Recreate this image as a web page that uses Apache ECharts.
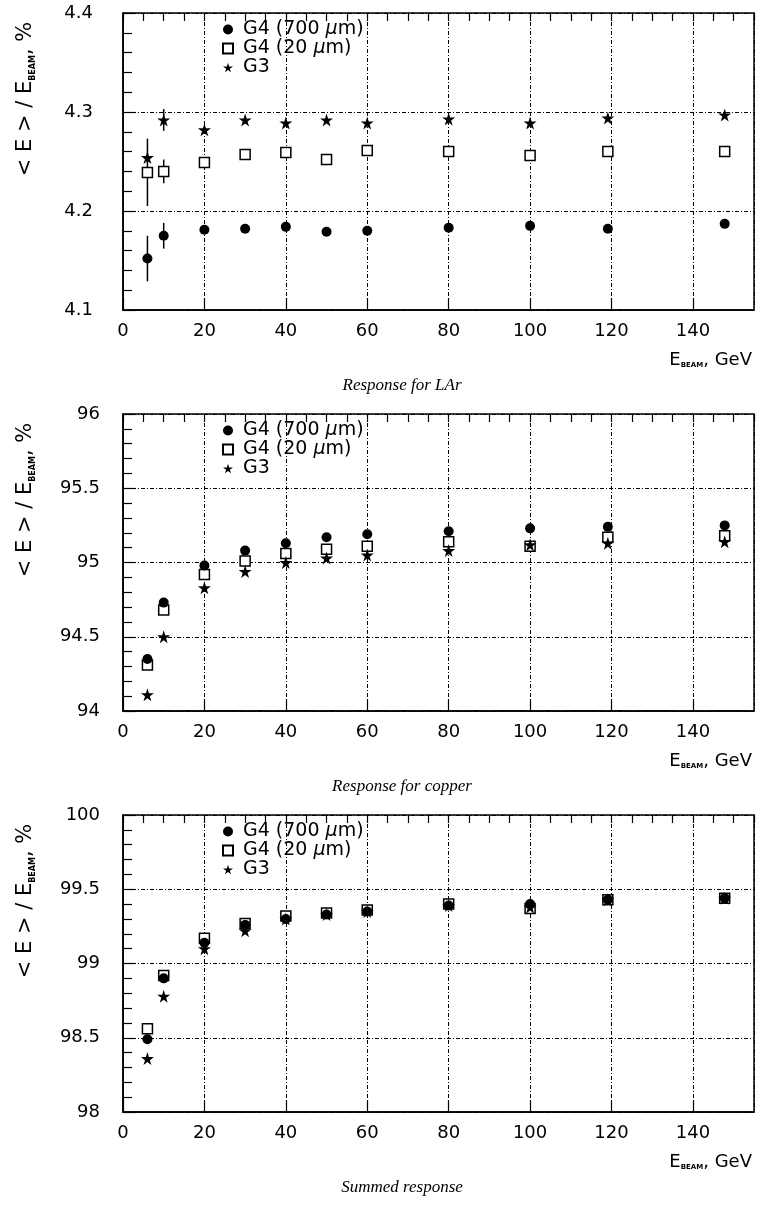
<!DOCTYPE html>
<html>
<head>
<meta charset="utf-8">
<script src="https://cdn.jsdelivr.net/npm/echarts@6/dist/echarts.min.js"></script>
<style>
  html, body { margin: 0; padding: 0; background: #fff; }
  #chart { width: 758px; height: 1207px; }
</style>
</head>
<body>
<div id="chart"></div>
<script>
// beam energies, GeV
const energy = [6, 10, 20, 30, 40, 50, 60, 80, 100, 119.1, 147.8];
const seriesNames = ['G4 (700 μm)', 'G4 (20 μm)', 'G3'];

// LAr response
const larThick = [4.152, 4.175, 4.181, 4.182, 4.184, 4.179, 4.180, 4.183, 4.185, 4.182, 4.187];
const larThickErr = [0.023, 0.013, 0, 0, 0, 0, 0, 0, 0, 0, 0];
const larThin = [4.239, 4.240, 4.249, 4.257, 4.259, 4.252, 4.261, 4.260, 4.256, 4.260, 4.260];
const larThinErr = [0.034, 0.012, 0, 0, 0, 0, 0, 0, 0, 0, 0];
const larG3 = [4.254, 4.292, 4.282, 4.292, 4.289, 4.292, 4.289, 4.293, 4.289, 4.294, 4.297];
const larG3Err = [0, 0.011, 0, 0, 0, 0, 0, 0, 0, 0, 0];

// copper response
const cuThick = [94.35, 94.73, 94.98, 95.08, 95.13, 95.17, 95.19, 95.21, 95.23, 95.24, 95.25];
const cuThickErr = [0.03, 0, 0, 0, 0, 0, 0, 0, 0, 0, 0];
const cuThin = [94.31, 94.68, 94.92, 95.01, 95.06, 95.09, 95.11, 95.14, 95.11, 95.17, 95.18];
const cuThinErr = [0.03, 0, 0, 0, 0, 0, 0, 0, 0, 0, 0];
const cuG3 = [94.11, 94.50, 94.83, 94.94, 95.00, 95.03, 95.05, 95.08, 95.12, 95.13, 95.14];
const cuG3Err = [0, 0, 0, 0, 0, 0, 0, 0, 0, 0, 0];

// summed response
const sumThick = [98.49, 98.90, 99.14, 99.26, 99.30, 99.33, 99.35, 99.39, 99.40, 99.43, 99.44];
const sumThickErr = [0.02, 0, 0, 0, 0, 0, 0, 0, 0, 0, 0];
const sumThin = [98.56, 98.92, 99.17, 99.27, 99.32, 99.34, 99.36, 99.40, 99.37, 99.43, 99.44];
const sumThinErr = [0.03, 0, 0, 0, 0, 0, 0, 0, 0, 0, 0];
const sumG3 = [98.36, 98.78, 99.10, 99.22, 99.30, 99.33, 99.35, 99.39, 99.38, 99.43, 99.44];
const sumG3Err = [0, 0, 0, 0, 0, 0, 0, 0, 0, 0, 0];

// axis ranges
const xMax = 155;
const xTicks = 20;
const yRanges = [[4.1, 4.4, 0.1], [94, 96, 0.5], [98, 100, 0.5]];
const captions = ['Response for LAr', 'Response for copper', 'Summed response'];

const panels = [
  {thick: larThick, thickErr: larThickErr, thin: larThin, thinErr: larThinErr, g3: larG3, g3Err: larG3Err},
  {thick: cuThick, thickErr: cuThickErr, thin: cuThin, thinErr: cuThinErr, g3: cuG3, g3Err: cuG3Err},
  {thick: sumThick, thickErr: sumThickErr, thin: sumThin, thinErr: sumThinErr, g3: sumG3, g3Err: sumG3Err},
];

const FONT = 'DejaVu Sans';
const STAR = 'path://M50,0 L61,35 L98,35 L68,57 L79,91 L50,70 L21,91 L32,57 L2,35 L39,35 Z';
const gridTops = [13, 414, 815];
const gridH = 297;
const labelMargins = [30, 23, 23];
const dashDot = [4, 2, 1, 2];

const chart = echarts.init(document.getElementById('chart'));

const grids = [], xAxes = [], yAxes = [], series = [], legends = [], graphics = [];

function points(vals) {
  return energy.map((e, i) => [e, vals[i]]);
}

function errorBars(vals, errs, xi, yi) {
  const data = [];
  energy.forEach((e, i) => {
    if (errs[i] > 0) data.push([e, vals[i] - errs[i], vals[i] + errs[i]]);
  });
  return {
    type: 'custom', xAxisIndex: xi, yAxisIndex: yi, data, silent: true, z: 1,
    encode: {x: 0, y: [1, 2]},
    renderItem: (params, api) => {
      const lo = api.coord([api.value(0), api.value(1)]);
      const hi = api.coord([api.value(0), api.value(2)]);
      return {
        type: 'line',
        shape: {x1: lo[0], y1: lo[1], x2: hi[0], y2: hi[1]},
        style: {stroke: '#000', lineWidth: 1.5},
      };
    },
  };
}

panels.forEach((p, k) => {
  const top = gridTops[k];
  grids.push({left: 123, right: 4, top, height: gridH, show: true, borderColor: '#000', borderWidth: 1.5});

  // main x axis: labels, grid lines, long ticks
  xAxes.push({
    type: 'value', gridIndex: k, min: 0, max: xMax, interval: xTicks,
    axisLine: {lineStyle: {color: '#000', width: 1.5}},
    axisTick: {inside: true, length: 12, lineStyle: {color: '#000', width: 1.2}},
    axisLabel: {color: '#000', fontSize: 18, fontFamily: FONT, margin: 12, showMaxLabel: false},
    splitLine: {show: true, lineStyle: {color: '#000', width: 1, type: dashDot}},
  });
  // second x axis: only the small ticks every 5 GeV
  xAxes.push({
    type: 'value', gridIndex: k, min: 0, max: xMax, interval: 5,
    axisLine: {show: false},
    axisTick: {inside: true, length: 8, lineStyle: {color: '#000', width: 1.2}},
    axisLabel: {show: false},
    splitLine: {show: false},
  });

  const [ymin, ymax, yint] = yRanges[k];
  yAxes.push({
    type: 'value', gridIndex: k, min: ymin, max: ymax, interval: yint,
    axisLine: {lineStyle: {color: '#000', width: 1.5}},
    axisTick: {inside: true, length: 12, lineStyle: {color: '#000', width: 1.2}},
    minorTick: {show: true, splitNumber: 5, length: 9, lineStyle: {color: '#000', width: 1.2}},
    axisLabel: {color: '#000', fontSize: 18, fontFamily: FONT, margin: labelMargins[k]},
    splitLine: {show: true, lineStyle: {color: '#000', width: 1, type: dashDot}},
  });

  const xi = 2 * k;
  series.push(errorBars(p.thin, p.thinErr, xi, k));
  series.push(errorBars(p.thick, p.thickErr, xi, k));
  series.push(errorBars(p.g3, p.g3Err, xi, k));
  series.push({
    name: seriesNames[1], type: 'scatter', xAxisIndex: xi, yAxisIndex: k, data: points(p.thin),
    symbol: 'rect', symbolSize: 10, z: 3,
    itemStyle: {color: '#fff', borderColor: '#000', borderWidth: 1.5, opacity: 1},
  });
  series.push({
    name: seriesNames[0], type: 'scatter', xAxisIndex: xi, yAxisIndex: k, data: points(p.thick),
    symbol: 'circle', symbolSize: 10, z: 3,
    itemStyle: {color: '#000', opacity: 1},
  });
  series.push({
    name: seriesNames[2], type: 'scatter', xAxisIndex: xi, yAxisIndex: k, data: points(p.g3),
    symbol: STAR, symbolSize: 13, z: 3,
    itemStyle: {color: '#000', opacity: 1},
  });

  legends.push({
    data: seriesNames, orient: 'vertical', left: 222, top: top + 7,
    selectedMode: false, itemWidth: 10, itemHeight: 10, itemGap: 0, padding: 0,
    textStyle: {
      color: '#000', fontSize: 19, fontFamily: FONT, lineHeight: 17.5, padding: [0, 0, 0, 5],
      rich: {mu: {fontStyle: 'italic', fontSize: 19, fontFamily: FONT, color: '#000'}},
    },
    formatter: (name) => name.replace('μ', '{mu|μ}'),
  });

  // y axis title, rotated
  graphics.push({
    type: 'text', x: 26, y: top + 86, rotation: Math.PI / 2,
    style: {
      text: '< E > / E{sub|BEAM}, %', fill: '#000', fontSize: 21, fontFamily: FONT,
      align: 'center', verticalAlign: 'middle',
      rich: {sub: {fontSize: 8, fontWeight: 'bold', fontFamily: FONT, verticalAlign: 'bottom', fill: '#000', padding: [7, 0, 0, 0]}},
    },
  });
  // x axis title
  graphics.push({
    type: 'text', x: 752, y: top + gridH + 50,
    style: {
      text: 'E{sub|BEAM}, GeV', fill: '#000', fontSize: 18, fontFamily: FONT,
      align: 'right', verticalAlign: 'middle',
      rich: {sub: {fontSize: 7, fontWeight: 'bold', fontFamily: FONT, verticalAlign: 'bottom', fill: '#000', padding: [6, 0, 0, 0]}},
    },
  });
  // caption
  graphics.push({
    type: 'text', x: 402, y: top + gridH + 76,
    style: {
      text: captions[k], fill: '#000', fontSize: 17, fontFamily: 'Liberation Serif',
      fontStyle: 'italic', align: 'center', verticalAlign: 'middle',
    },
  });
});

chart.setOption({
  animation: false,
  backgroundColor: '#fff',
  grid: grids,
  xAxis: xAxes,
  yAxis: yAxes,
  legend: legends,
  series,
  graphic: graphics,
});
</script>
</body>
</html>
